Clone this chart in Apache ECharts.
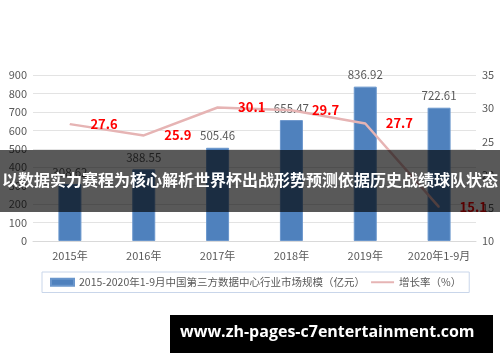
<!DOCTYPE html>
<html><head><meta charset="utf-8">
<script src="https://cdn.jsdelivr.net/npm/echarts@6/dist/echarts.min.js"></script>
<style>html,body{margin:0;padding:0;background:#fff}#c{width:500px;height:362px}</style>
</head><body><div id="c"></div>
<script>
const categories = ['2015年','2016年','2017年','2018年','2019年','2020年1-9月'];
const marketSize = [308.62, 388.55, 505.46, 655.47, 836.92, 722.61];
const growthRate = [27.6, 25.9, 30.1, 29.7, 27.7, 15.1];
const barName = '2015-2020年1-9月中国第三方数据中心行业市场规模（亿元）';
const lineName = '增长率（%）';
const bannerText = '以数据实力赛程为核心解析世界杯出战形势预测依据历史战绩球队状态';
const watermark = 'www.zh-pages-c7entertainment.com';

const font = '"Noto Sans CJK SC", "Liberation Sans", sans-serif';
const chart = echarts.init(document.getElementById('c'));
chart.setOption({
  animation: false,
  backgroundColor: '#fff',
  textStyle: { fontFamily: font },
  grid: { left: 33, right: 24, top: 75, bottom: 121, containLabel: false },
  legend: {
    left: 42, top: 272, width: 470,
    padding: [5, 8], itemGap: 6,
    borderColor: '#c9d6ea', borderWidth: 1,
    itemWidth: 23, itemHeight: 7,
    textStyle: { color: '#595959', fontSize: 10.5, fontFamily: font },
    data: [{ name: barName, icon: 'rect' }, { name: lineName, icon: 'path://M0,0L23,0L23,2L0,2Z' }]
  },
  xAxis: {
    type: 'category', data: categories,
    axisLine: { lineStyle: { color: '#d9d9d9' } },
    axisTick: { show: false },
    axisLabel: { color: '#595959', fontSize: 11, margin: 9, interval: 0, fontFamily: font }
  },
  yAxis: [{
    type: 'value', min: 0, max: 900, interval: 100,
    axisLine: { show: false }, axisTick: { show: false },
    splitLine: { lineStyle: { color: '#e3e3e3' } },
    axisLabel: { color: '#595959', fontSize: 11, margin: 6 }
  }, {
    type: 'value', min: 10, max: 35, interval: 5,
    axisLine: { show: false }, axisTick: { show: false },
    splitLine: { show: false },
    axisLabel: { color: '#595959', fontSize: 11, margin: 6 }
  }],
  series: [{
    name: barName, type: 'bar', data: marketSize, barWidth: 23,
    itemStyle: { color: '#4f81bd', borderColor: '#6a96cc', borderWidth: 1 },
    label: { show: true, position: 'top', color: '#595959', fontSize: 11.5, distance: 6 }
  }, {
    name: lineName, type: 'line', yAxisIndex: 1, data: growthRate,
    showSymbol: true, symbol: 'circle', symbolSize: 1,
    lineStyle: { color: '#e6b4b4', width: 2.5 },
    itemStyle: { color: '#e6b4b4' },
    label: { show: true, position: 'right', distance: 20, color: '#ff0000', fontWeight: 'bold', fontSize: 13 }
  }],
  graphic: [
    { type: 'rect', z: 100, left: 0, top: 150, shape: { width: 500, height: 62 }, style: { fill: 'rgba(0,0,0,0.65)' } },
    { type: 'text', z: 101, left: 'center', top: 172, style: { text: bannerText, fill: '#fff', font: 'bold 16px "Noto Sans CJK SC", sans-serif' } },
    { type: 'rect', z: 100, left: 170, top: 315, shape: { width: 323, height: 38 }, style: { fill: '#000' } },
    { type: 'text', z: 101, left: 180, top: 324, style: { text: watermark, fill: '#fff', font: 'bold 16px "Open Sans", "DejaVu Sans", sans-serif' } }
  ]
});
</script></body></html>
